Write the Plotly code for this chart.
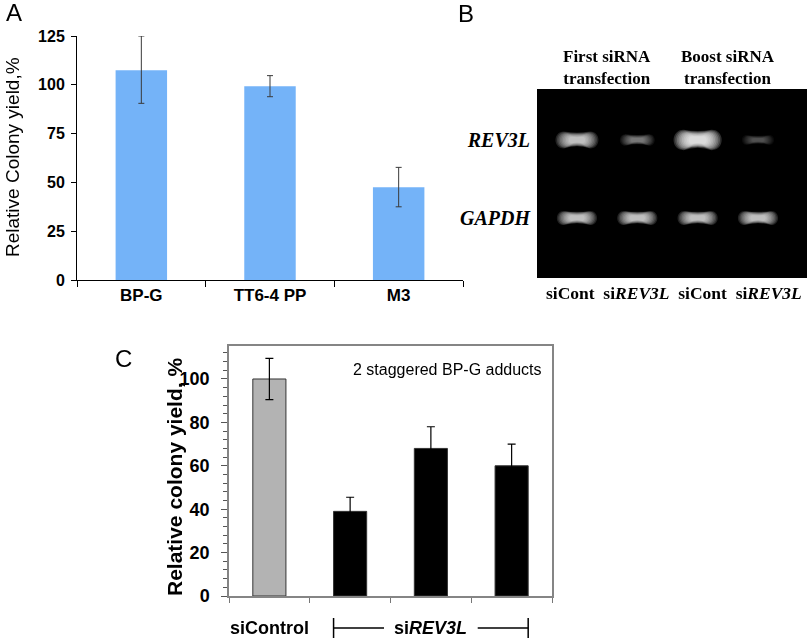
import plotly.graph_objects as go

# Panel A - relative colony yield per lesion
lesions = ["BP-G", "TT6-4 PP", "M3"]
colony_yield = [107.5, 99.2, 47.5]
colony_err_hi = [17.5, 5.5, 10.2]
colony_err_lo = [17.0, 5.3, 10.0]

# Panel B - RT-PCR gel
lanes = ["siCont", "si<i>REV3L</i>", "siCont", "si<i>REV3L</i>"]
transfections = ["First siRNA<br>transfection", "Boost siRNA<br>transfection"]
genes = ["<i>REV3L</i>", "<i>GAPDH</i>"]
rev3l_signal = [0.75, 0.35, 1.0, 0.22]
gapdh_signal = [0.75, 0.75, 0.75, 0.75]

# Panel C - 2 staggered BP-G adducts
conditions = ["siControl", "siREV3L a", "siREV3L b", "siREV3L c"]
staggered_yield = [100, 39, 68, 60]
staggered_err = [9.5, 6.5, 10, 10]

SANS = "Liberation Sans, Arial, sans-serif"
SERIF = "Liberation Serif, Times New Roman, serif"
W, H = 810, 640


def px(x):
    return x / W


def py(y):
    return 1 - y / H


fig = go.Figure()

fig.add_trace(go.Bar(
    x=lesions, y=colony_yield, width=0.4,
    marker=dict(color="#74b3f8", line_width=0),
    error_y=dict(type="data", symmetric=False, array=colony_err_hi,
                 arrayminus=colony_err_lo, color="#3a3a3a", thickness=1, width=3),
    xaxis="x", yaxis="y",
))

# placeholder so the gel subplot exists
fig.add_trace(go.Scatter(x=[1, 4], y=[1, 2], mode="markers", opacity=0,
                         hoverinfo="skip", xaxis="x2", yaxis="y2"))

fig.add_trace(go.Bar(
    x=conditions, y=staggered_yield, width=0.41,
    marker=dict(color=["#b3b3b3", "black", "black", "black"],
                line=dict(color="#333333", width=1)),
    error_y=dict(type="data", array=staggered_err, color="black", thickness=1.2, width=4),
    xaxis="x3", yaxis="y3",
))

shapes = [dict(type="rect", xref="x2 domain", yref="y2 domain", x0=0, x1=1, y0=0, y1=1,
               fillcolor="black", line_width=0, layer="below")]


def band_path(cx, cy, w, h, f):
    # rounded band, slightly thinner in the middle with drooping ends
    hw, hh = w * f / 2, h * f / 2
    dip, rise, bulge = hh * 0.12, hh * 0.25, hh * 1.7
    return (f"M {cx - hw},{cy - hh} "
            f"Q {cx},{cy - hh + 2 * dip} {cx + hw},{cy - hh} "
            f"C {cx + hw + bulge},{cy - hh} {cx + hw + bulge},{cy + hh} {cx + hw},{cy + hh} "
            f"Q {cx},{cy + hh - 2 * rise} {cx - hw},{cy + hh} "
            f"C {cx - hw - bulge},{cy + hh} {cx - hw - bulge},{cy - hh} {cx - hw},{cy - hh} Z")


glow = [1.45, 1.35, 1.25, 1.15, 1.05, 0.95, 0.85, 0.75, 0.65, 0.55]
for row, signal in enumerate([rev3l_signal, gapdh_signal], start=1):
    for lane, s in enumerate(signal, start=1):
        w = 0.24 + 0.08 * s
        h = 0.06 + 0.12 * s if row == 1 else 0.125
        for f in glow:
            shapes.append(dict(type="path", xref="x2", yref="y2",
                               path=band_path(lane, row, w, h, f),
                               fillcolor="white", opacity=min(1, s * 0.18), line_width=0))

# siREV3L bracket under panel C
half = 0.41 / 2
yb = py(628)
for x0, x1 in [(1 - half, 1.42), (2.58, 3 + half)]:
    shapes.append(dict(type="line", xref="x3", yref="paper", x0=x0, x1=x1, y0=yb, y1=yb,
                       line=dict(color="black", width=1.5)))
for xc in [1 - half, 3 + half]:
    shapes.append(dict(type="line", xref="x3", yref="paper", x0=xc, x1=xc,
                       y0=py(618), y1=py(638), line=dict(color="black", width=1.5)))

annotations = [
    dict(text="A", x=px(14), y=py(13), font=dict(size=24)),
    dict(text="B", x=px(466), y=py(14), font=dict(size=24)),
    dict(text="C", x=px(123), y=py(358), font=dict(size=24)),
    dict(text="Relative Colony yield,%", x=px(12), y=py(157), textangle=-90,
         font=dict(size=19)),
    dict(text="Relative colony yield, %", x=px(174), y=py(477), textangle=-90,
         font=dict(size=21, weight="bold")),
    dict(text="2 staggered BP-G adducts", x=px(544), y=py(369), xanchor="right",
         font=dict(size=16)),
    dict(text="siControl", xref="x3", x=0, y=yb, font=dict(size=18, weight="bold")),
    dict(text="si<i>REV3L</i>", xref="x3", x=2, y=yb, font=dict(size=18, weight="bold")),
    dict(text="\u00a0\u00a0".join(lanes), xref="x2", x=2.6, y=py(293),
         font=dict(family=SERIF, size=17.5, weight="bold")),
]
for i, t in enumerate(transfections):
    annotations.append(dict(text=t, xref="x2", x=1.5 + 2 * i, y=py(67),
                            font=dict(family=SERIF, size=17, weight="bold")))
for a in annotations:
    a.setdefault("xref", "paper")
    a.setdefault("yref", "paper")
    a.setdefault("xanchor", "center")
    a.setdefault("yanchor", "middle")
    a.setdefault("showarrow", False)
    a["font"].setdefault("family", SANS)
    a["font"].setdefault("color", "black")

fig.update_layout(
    width=W, height=H,
    margin=dict(l=0, r=0, t=0, b=0, autoexpand=False),
    paper_bgcolor="white", plot_bgcolor="white",
    showlegend=False,
    font=dict(family=SANS, color="black"),
    xaxis=dict(domain=[px(77), px(463)], anchor="y", type="category", range=[-0.5, 2.5],
               tickson="boundaries", ticks="outside", ticklen=6, tickcolor="black",
               showline=True, linecolor="black", linewidth=1, showgrid=False, automargin=False,
               tickfont=dict(size=17, weight="bold")),
    yaxis=dict(domain=[py(280), py(36)], anchor="x", range=[0, 125], tickvals=[0, 25, 50, 75, 100, 125],
               ticks="outside", ticklen=5, tickcolor="black", showline=True, linecolor="black",
               linewidth=1, showgrid=False, zeroline=False, ticklabelstandoff=3, automargin=False,
               tickfont=dict(size=16, weight="bold")),
    xaxis2=dict(domain=[px(537), px(807)], anchor="y2", range=[0.337, 4.812],
                showticklabels=False, ticks="", showline=False,
                showgrid=False, zeroline=False, automargin=False),
    yaxis2=dict(domain=[py(278), py(89)], anchor="x2", range=[2.77, 0.346],
                tickvals=[1, 2], ticktext=genes, ticks="", showline=False,
                showgrid=False, zeroline=False, ticklabelstandoff=6, automargin=False,
                tickfont=dict(family=SERIF, size=20, weight="bold")),
    xaxis3=dict(domain=[px(229), px(552)], anchor="y3", type="category", range=[-0.5, 3.5],
                tickson="boundaries", ticks="outside", ticklen=5, tickcolor="#777777",
                showticklabels=False, showline=True, mirror=True, linecolor="#858585",
                linewidth=1.5, showgrid=False, automargin=False),
    yaxis3=dict(domain=[py(596), py(346)], anchor="x3", range=[0, 115.2], tick0=0, dtick=20,
                ticks="outside", ticklen=6, tickcolor="#555555",
                minor=dict(dtick=4, ticks="outside", ticklen=4, tickcolor="#555555"),
                showline=True, mirror=True, linecolor="#858585", linewidth=1.5,
                showgrid=False, zeroline=False, ticklabelstandoff=8, automargin=False,
                tickfont=dict(size=18, weight="bold")),
    shapes=shapes,
    annotations=annotations,
)

# the page body has a default 8px margin; drop it so the figure sits at the window corner
fig.write_html("out.html", config={"displayModeBar": False},
               post_script="document.body.style.margin='0px';")
